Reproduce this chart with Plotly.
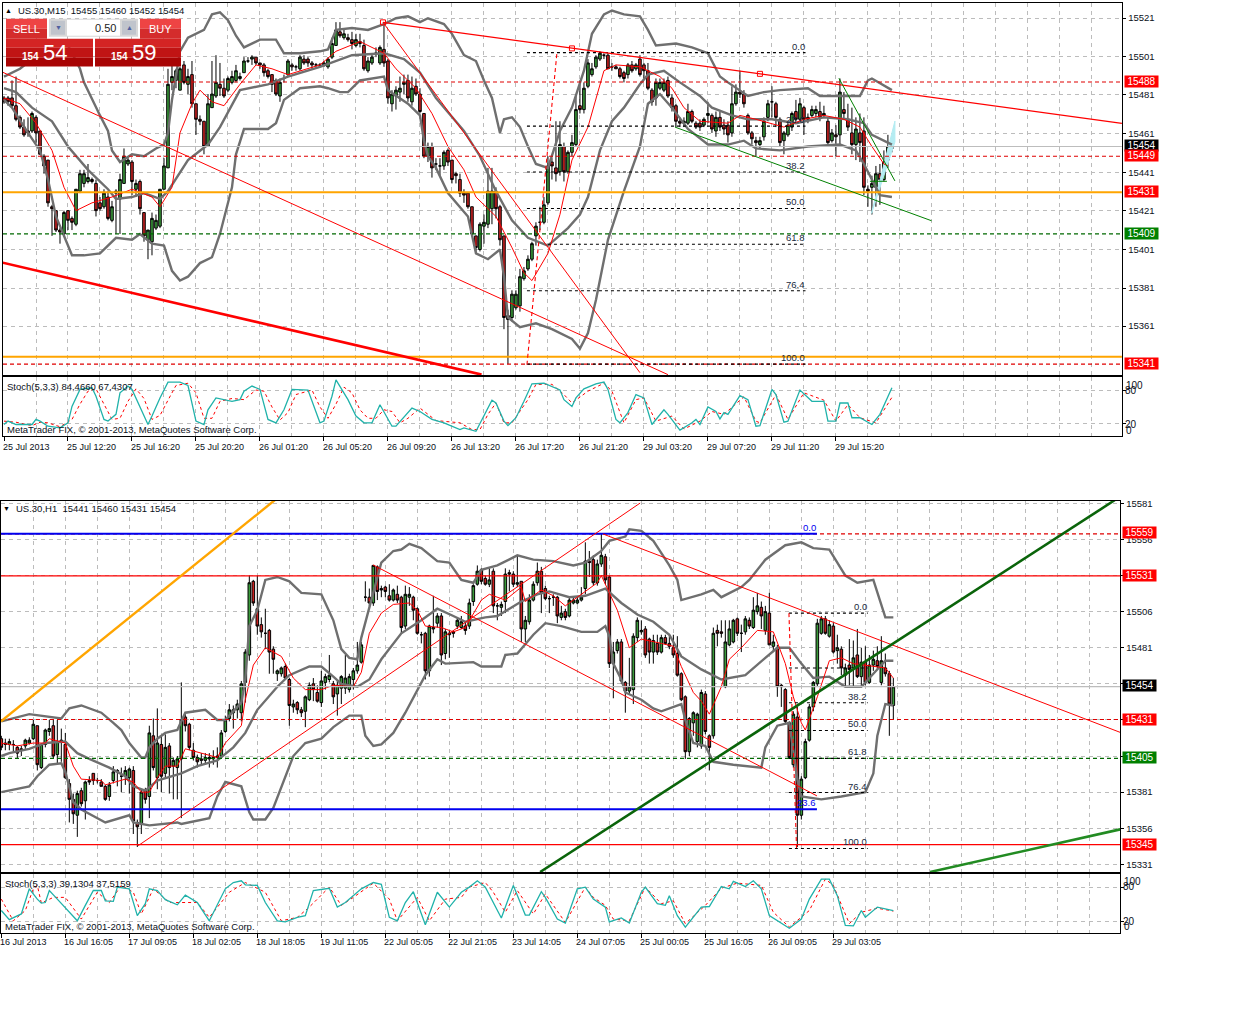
import plotly.graph_objects as go

# ---------- M15 candles (top chart) ----------
m15_open = [
    15480,15480,15480,15476,15470,15465,15463,15463,15470,15463,
    15450,15448,15424,15422,15412,15410,15422,15418,15415,15432,
    15436,15437,15438,15436,15426,15424,15429,15417,15431,15428,
    15436,15446,15447,15433,15437,15421,15407,15406,15413,15414,
    15433,15444,15488,15489,15484,15497,15487,15492,15477,15469,
    15468,15455,15475,15481,15487,15485,15484,15488,15489,15490,
    15493,15499,15500,15501,15498,15497,15494,15492,15489,15481,
    15490,15492,15497,15496,15495,15500,15500,15498,15497,15497,
    15497,15496,15501,15507,15514,15511,15511,15510,15507,15509,
    15507,15494,15498,15503,15498,15505,15499,15477,15481,15483,
    15487,15489,15478,15486,15482,15472,15450,15455,15446,15445,
    15445,15453,15448,15441,15438,15431,15431,15424,15409,15402,
    15414,15415,15423,15432,15424,15409,15368,15367,15372,15373,
    15387,15392,15397,15409,15416,15416,15426,15447,15444,15442,
    15455,15442,15452,15456,15476,15474,15486,15492,15496,15500,
    15502,15502,15496,15496,15495,15493,15492,15497,15495,15500,
    15497,15494,15484,15480,15485,15484,15489,15480,15476,15468,
    15467,15467,15473,15467,15467,15466,15471,15471,15463,15470,
    15466,15466,15462,15477,15483,15482,15471,15462,15458,15456,
    15460,15470,15478,15477,15469,15458,15461,15465,15473,15469,
    15475,15470,15471,15472,15473,15471,15468,15458,15461,15461,
    15474,15469,15462,15456,15462,15463,15433,15434,15434,15441,
    15438,15448,15455,
]
m15_close = [
    15478,15478,15476,15469,15465,15461,15462,15472,15462,15451,
    15445,15426,15423,15412,15411,15421,15417,15416,15433,15441,
    15441,15439,15437,15422,15423,15431,15418,15424,15432,15438,
    15450,15448,15437,15436,15423,15409,15412,15418,15417,15433,
    15445,15487,15491,15494,15495,15488,15491,15477,15469,15468,
    15455,15477,15482,15488,15485,15481,15490,15491,15494,15491,
    15499,15499,15501,15498,15497,15493,15491,15487,15482,15488,
    15490,15499,15496,15496,15501,15498,15498,15497,15497,15497,
    15498,15500,15508,15515,15512,15513,15510,15508,15510,15508,
    15495,15499,15501,15503,15506,15498,15480,15482,15484,15485,
    15488,15480,15485,15482,15473,15450,15455,15444,15446,15445,
    15452,15447,15438,15440,15431,15430,15424,15410,15403,15415,
    15416,15432,15432,15423,15407,15367,15366,15379,15379,15388,
    15391,15397,15405,15414,15416,15425,15445,15445,15441,15456,
    15442,15452,15457,15474,15474,15485,15498,15495,15501,15503,
    15502,15495,15496,15495,15491,15490,15497,15494,15497,15492,
    15494,15485,15478,15488,15488,15488,15481,15475,15468,15467,
    15468,15473,15468,15465,15465,15469,15472,15464,15470,15465,
    15464,15461,15477,15483,15482,15477,15462,15459,15457,15458,
    15468,15477,15478,15470,15457,15462,15466,15472,15469,15477,
    15469,15469,15474,15474,15470,15472,15457,15462,15460,15483,
    15472,15465,15456,15464,15457,15434,15432,15436,15441,15438,
    15447,15455,15454,
]
m15_high = [
    15481,15481,15489,15491,15471,15469,15470,15473,15471,15463,
    15451,15448,15425,15422,15413,15422,15422,15419,15433,15443,
    15443,15446,15439,15438,15429,15433,15432,15427,15433,15441,
    15454,15450,15448,15438,15438,15421,15412,15421,15420,15433,
    15449,15495,15497,15495,15496,15499,15495,15499,15477,15471,
    15468,15482,15499,15502,15498,15490,15491,15494,15497,15493,
    15501,15501,15502,15501,15498,15498,15495,15492,15490,15490,
    15492,15500,15498,15497,15502,15502,15501,15499,15498,15498,
    15499,15501,15511,15519,15519,15515,15513,15514,15513,15513,
    15510,15501,15503,15506,15507,15518,15500,15484,15486,15491,
    15492,15492,15491,15490,15485,15472,15457,15457,15449,15449,
    15453,15454,15448,15442,15441,15433,15431,15424,15409,15416,
    15420,15444,15444,15434,15425,15409,15371,15381,15381,15392,
    15393,15399,15406,15416,15424,15429,15450,15449,15468,15468,
    15457,15453,15461,15481,15489,15488,15500,15498,15502,15504,
    15503,15503,15498,15497,15496,15494,15498,15499,15498,15502,
    15498,15498,15485,15490,15490,15490,15491,15482,15477,15470,
    15470,15477,15474,15468,15469,15470,15478,15472,15473,15473,
    15469,15468,15486,15487,15494,15484,15472,15463,15460,15460,
    15470,15479,15486,15478,15470,15463,15468,15473,15479,15480,
    15476,15472,15476,15476,15478,15476,15470,15464,15466,15490,
    15483,15477,15475,15470,15472,15470,15435,15440,15445,15446,
    15453,15461,15460,
]
m15_low = [
    15477,15476,15475,15468,15464,15460,15460,15462,15457,15451,
    15441,15424,15409,15411,15405,15409,15412,15412,15414,15431,
    15434,15436,15436,15419,15422,15423,15417,15416,15410,15410,
    15436,15445,15430,15429,15420,15406,15397,15399,15412,15413,
    15433,15444,15484,15485,15484,15487,15482,15475,15461,15466,
    15451,15455,15475,15480,15481,15480,15483,15487,15488,15489,
    15493,15498,15497,15497,15495,15491,15490,15483,15481,15478,
    15488,15491,15494,15494,15494,15497,15496,15495,15496,15496,
    15496,15495,15500,15507,15511,15510,15509,15505,15506,15506,
    15494,15493,15497,15501,15497,15496,15477,15473,15474,15478,
    15482,15478,15476,15481,15472,15449,15447,15439,15443,15440,
    15443,15445,15436,15436,15429,15426,15423,15409,15400,15401,
    15405,15413,15415,15418,15404,15361,15343,15365,15371,15370,
    15386,15391,15396,15404,15412,15415,15425,15438,15437,15440,
    15437,15441,15450,15455,15472,15472,15485,15491,15495,15499,
    15500,15495,15494,15495,15490,15488,15490,15493,15494,15491,
    15490,15484,15476,15476,15484,15483,15480,15473,15465,15465,
    15465,15466,15467,15464,15463,15465,15467,15462,15460,15463,
    15461,15457,15460,15476,15480,15475,15461,15456,15450,15454,
    15458,15468,15470,15465,15455,15451,15460,15463,15468,15468,
    15461,15467,15470,15470,15468,15470,15456,15457,15450,15456,
    15469,15463,15451,15448,15447,15430,15424,15420,15424,15425,
    15437,15444,15452,
]

# M15 Bollinger bands and moving average, read at the turning points
m15_up_bars = [0,4,12,16,19,20,24,26,27,29,32,35,38,40,41,42,44,46,50,52,54,56,58,60,64,68,70,74,79,81,83,87,91,95,98,101,104,106,110,112,115,118,120,122,124,125,127,129,131,133,136,139,142,145,147,150,152,155,159,161,163,168,172,176,179,181,186,190,194,201,204,209,214,216,217,222]
m15_up_vals = [15491,15495,15508,15507,15495,15488,15471,15463,15453,15447,15451,15450,15454,15456,15462,15479,15504,15511,15515,15523,15524,15520,15512,15506,15510,15510,15503,15503,15504,15505,15515,15516,15515,15518,15521,15522,15519,15521,15518,15513,15502,15499,15489,15480,15462,15469,15470,15465,15455,15446,15444,15463,15475,15494,15513,15523,15525,15523,15522,15515,15507,15508,15506,15503,15491,15488,15481,15483,15484,15485,15481,15481,15481,15489,15490,15484]
m15_mid_bars = [0,3,7,12,16,21,26,28,32,35,39,41,46,51,54,59,66,71,79,83,87,95,100,104,108,115,119,123,127,131,136,141,144,146,149,152,155,159,161,165,169,174,177,182,186,192,198,205,211,215,217,222]
m15_mid_vals = [15485,15483,15475,15468,15455,15443,15433,15428,15429,15431,15428,15432,15448,15456,15465,15484,15487,15491,15496,15499,15502,15503,15500,15493,15480,15463,15450,15432,15417,15408,15404,15413,15420,15429,15453,15468,15475,15487,15492,15494,15488,15481,15475,15471,15469,15469,15467,15470,15469,15467,15461,15456]
m15_low_bars = [0,2,6,9,11,13,17,20,24,28,32,34,37,40,42,44,46,49,52,54,57,58,60,66,68,70,74,79,81,84,86,89,95,96,101,104,105,106,108,111,116,118,121,124,125,126,129,133,137,142,144,146,148,151,155,159,161,164,167,171,176,181,185,188,194,201,209,213,215,217,219,222]
m15_low_vals = [15479,15475,15462,15453,15438,15419,15399,15399,15400,15408,15407,15410,15405,15404,15391,15386,15388,15395,15398,15410,15434,15451,15464,15464,15467,15479,15485,15486,15485,15483,15483,15489,15491,15484,15477,15471,15458,15450,15444,15431,15419,15400,15397,15402,15388,15367,15362,15364,15361,15356,15351,15359,15376,15407,15432,15455,15477,15482,15475,15464,15456,15456,15458,15454,15453,15455,15456,15453,15446,15438,15430,15429]
m15_ma_bars = [0,4,8,12,15,18,22,27,32,37,39,42,44,47,49,52,55,59,63,67,71,74,79,83,89,95,98,103,107,111,115,118,123,127,130,132,136,139,142,146,150,153,159,164,167,170,174,181,184,188,195,200,205,210,214,217,220,221]
m15_ma_vals = [15480,15477,15467,15453,15434,15422,15426,15429,15433,15429,15424,15434,15462,15477,15484,15478,15476,15487,15497,15495,15492,15494,15497,15504,15509,15503,15495,15485,15472,15455,15443,15429,15419,15403,15390,15386,15400,15420,15448,15465,15494,15497,15496,15491,15485,15475,15468,15467,15471,15469,15465,15469,15471,15469,15465,15455,15446,15445]

# M15 stochastic
m15_k_bars = [0,1,3,7,8,9,11,14,16,17,19,22,23,25,26,28,29,31,32,34,36,37,39,41,44,46,48,50,51,53,57,59,60,62,64,66,68,70,72,76,79,80,82,83,86,88,90,92,94,97,98,102,104,107,110,114,115,118,120,122,123,125,126,128,130,132,135,139,140,142,143,145,148,150,151,153,154,156,158,160,162,165,166,169,172,173,174,176,178,179,180,181,184,186,188,189,192,193,195,196,199,202,205,206,208,209,211,212,214,217,219,222]
m15_k_vals = [19,25,19,19,28,25,16,13,22,51,81,84,69,28,25,37,75,87,81,51,19,34,66,94,94,88,25,19,45,66,60,63,78,87,81,28,22,45,81,80,22,25,69,98,63,34,22,22,54,16,16,48,42,28,22,10,13,7,34,62,57,25,17,31,60,91,92,80,63,51,66,82,91,94,81,28,22,40,72,66,19,45,37,9,22,28,19,50,42,29,40,37,70,63,16,17,81,72,23,25,80,60,60,25,25,57,57,31,31,19,37,84]
m15_d_bars = [0,3,7,9,11,14,17,19,21,23,25,27,29,31,33,35,37,39,41,43,46,48,50,52,54,57,60,63,65,67,69,71,73,77,79,81,83,85,87,89,91,93,95,97,99,101,104,108,114,117,119,121,123,125,127,131,133,137,140,142,146,150,152,155,158,160,163,167,170,174,177,180,185,188,189,193,196,200,205,208,211,214,218,222]
m15_d_vals = [25,23,17,23,22,15,28,55,78,82,55,28,30,60,82,65,28,35,62,88,92,75,30,30,60,65,63,80,78,50,27,40,72,80,50,30,55,85,75,45,30,30,45,42,22,30,48,26,22,10,10,37,57,22,22,63,90,90,72,57,78,92,78,22,63,66,25,34,11,25,42,37,68,25,22,72,28,75,62,25,54,31,22,67]

# ---------- H1 candles (bottom chart) ----------
h1_open = [
    15418,15415,15414,15414,15412,15411,15413,15415,15418,15427,
    15398,15414,15423,15427,15407,15417,15414,15387,15376,15365,
    15382,15375,15389,15394,15389,15388,15385,15378,15389,15395,
    15392,15392,15391,15396,15360,15359,15382,15378,15420,15391,
    15414,15394,15413,15399,15398,15404,15433,15428,15410,15405,
    15404,15403,15404,15404,15405,15406,15423,15432,15436,15438,
    15436,15457,15476,15527,15508,15497,15491,15493,15480,15463,
    15463,15468,15459,15440,15443,15438,15437,15445,15456,15450,
    15443,15457,15459,15456,15449,15453,15453,15452,15459,15465,
    15471,15516,15516,15512,15537,15522,15523,15517,15514,15518,
    15516,15496,15516,15516,15508,15490,15491,15465,15494,15498,
    15503,15477,15490,15492,15496,15495,15496,15496,15513,15525,
    15535,15529,15525,15534,15510,15509,15513,15533,15532,15525,
    15527,15494,15499,15514,15526,15534,15522,15515,15516,15516,
    15502,15506,15503,15512,15512,15514,15522,15541,15542,15526,
    15539,15544,15530,15470,15479,15485,15457,15451,15452,15488,
    15492,15494,15487,15478,15484,15478,15488,15484,15481,15477,
    15463,15447,15409,15429,15416,15413,15449,15420,15420,15493,
    15492,15454,15483,15485,15501,15491,15492,15500,15495,15506,
    15509,15493,15505,15482,15481,15455,15452,15429,15400,15433,
    15365,15391,15417,15440,15456,15491,15501,15489,15496,15479,
    15480,15462,15469,15467,15476,15461,15471,15457,15469,15472,
    15457,15467,15463,15441,
]
h1_close = [
    15412,15414,15416,15414,15408,15410,15417,15417,15428,15400,
    15414,15424,15425,15406,15416,15416,15391,15376,15366,15380,
    15373,15388,15388,15389,15389,15385,15376,15386,15395,15396,
    15392,15396,15397,15361,15357,15381,15376,15422,15398,15415,
    15392,15412,15398,15403,15404,15431,15427,15412,15405,15402,
    15403,15405,15405,15405,15406,15422,15431,15438,15438,15442,
    15456,15478,15526,15512,15496,15492,15491,15478,15473,15465,
    15467,15460,15441,15442,15438,15436,15447,15455,15452,15444,
    15458,15461,15462,15447,15455,15461,15460,15461,15465,15469,
    15483,15516,15512,15538,15520,15521,15520,15514,15521,15514,
    15495,15518,15518,15507,15491,15490,15465,15496,15495,15503,
    15476,15492,15491,15491,15500,15499,15493,15512,15524,15534,
    15527,15525,15528,15510,15510,15511,15532,15532,15525,15526,
    15494,15500,15514,15525,15534,15519,15515,15515,15516,15503,
    15505,15502,15514,15514,15514,15516,15541,15540,15526,15539,
    15545,15528,15470,15478,15485,15458,15451,15454,15489,15500,
    15493,15476,15478,15486,15478,15488,15484,15482,15476,15462,
    15445,15409,15432,15436,15435,15450,15423,15412,15491,15491,
    15491,15485,15494,15500,15491,15491,15501,15496,15507,15510,
    15503,15506,15483,15485,15454,15454,15430,15405,15435,15365,
    15390,15416,15440,15457,15498,15501,15491,15497,15478,15481,
    15467,15467,15466,15474,15461,15471,15457,15469,15473,15468,
    15472,15463,15442,15454,
]
h1_high = [
    15420,15418,15418,15417,15413,15413,15418,15419,15431,15427,
    15415,15425,15431,15431,15431,15425,15422,15390,15380,15382,
    15384,15389,15392,15394,15391,15390,15386,15388,15399,15397,
    15398,15399,15398,15399,15362,15383,15384,15427,15432,15439,
    15420,15421,15415,15405,15406,15457,15435,15429,15415,15407,
    15408,15408,15408,15410,15412,15424,15434,15442,15441,15445,
    15458,15480,15531,15528,15531,15502,15508,15494,15482,15466,
    15468,15470,15460,15445,15444,15440,15448,15457,15460,15455,
    15465,15463,15476,15458,15458,15462,15476,15463,15467,15485,
    15485,15527,15522,15538,15538,15524,15524,15525,15522,15524,
    15517,15524,15523,15517,15509,15492,15492,15497,15517,15505,
    15505,15494,15493,15493,15502,15503,15499,15515,15525,15538,
    15536,15531,15536,15536,15512,15513,15536,15535,15534,15545,
    15527,15503,15518,15527,15540,15537,15524,15517,15518,15517,
    15510,15508,15516,15516,15516,15523,15554,15548,15545,15542,
    15560,15546,15531,15485,15487,15487,15458,15474,15491,15502,
    15500,15496,15488,15490,15490,15490,15490,15490,15490,15489,
    15464,15448,15433,15437,15436,15452,15451,15421,15495,15497,
    15500,15500,15500,15501,15502,15497,15503,15502,15516,15519,
    15513,15510,15519,15490,15483,15456,15453,15430,15437,15440,
    15392,15418,15442,15458,15501,15503,15503,15500,15498,15490,
    15482,15470,15487,15486,15494,15481,15482,15476,15479,15482,
    15489,15477,15465,15460,
]
h1_low = [
    15410,15410,15410,15409,15404,15406,15411,15414,15417,15396,
    15397,15412,15420,15404,15401,15402,15390,15360,15359,15350,
    15371,15362,15386,15386,15387,15385,15375,15375,15387,15385,
    15381,15386,15380,15352,15343,15352,15373,15363,15396,15383,
    15381,15391,15380,15376,15376,15363,15423,15410,15403,15398,
    15400,15400,15398,15400,15398,15404,15422,15430,15425,15432,
    15430,15443,15472,15510,15490,15488,15480,15463,15463,15458,
    15461,15459,15427,15436,15435,15433,15426,15444,15444,15443,
    15440,15452,15457,15442,15434,15442,15449,15450,15452,15463,
    15470,15513,15510,15510,15514,15516,15516,15513,15513,15512,
    15491,15494,15510,15500,15490,15484,15459,15461,15491,15495,
    15469,15473,15474,15488,15494,15494,15490,15494,15510,15524,
    15525,15524,15523,15505,15500,15503,15505,15520,15523,15523,
    15485,15485,15497,15513,15524,15505,15514,15505,15510,15498,
    15500,15500,15502,15511,15511,15513,15518,15530,15524,15524,
    15537,15525,15467,15446,15477,15456,15436,15449,15442,15485,
    15490,15474,15470,15470,15476,15477,15483,15480,15474,15461,
    15444,15404,15406,15420,15412,15411,15421,15396,15418,15482,
    15488,15453,15482,15484,15489,15478,15490,15494,15494,15504,
    15494,15490,15483,15478,15447,15440,15428,15404,15398,15343,
    15362,15390,15416,15437,15454,15490,15490,15488,15477,15470,
    15462,15454,15455,15454,15460,15454,15455,15456,15465,15466,
    15455,15461,15420,15431,
]

# H1 Bollinger bands and moving average
h1_up_bars = [0,7,15,17,20,25,28,30,32,35,36,37,39,41,44,46,51,54,56,60,61,62,64,66,69,72,75,80,83,85,87,89,90,93,95,98,100,102,105,109,112,115,118,120,124,129,133,138,143,146,150,152,156,157,160,163,167,169,170,175,178,180,185,187,191,196,200,203,207,211,214,218,221,223]
h1_up_vals = [15430,15435,15432,15439,15441,15436,15429,15424,15415,15405,15405,15412,15418,15422,15424,15436,15438,15431,15431,15443,15459,15496,15507,15528,15530,15527,15519,15518,15500,15480,15474,15473,15488,15519,15540,15548,15549,15553,15550,15541,15540,15528,15526,15535,15538,15545,15542,15541,15538,15540,15548,15555,15558,15563,15562,15555,15538,15528,15514,15518,15521,15516,15523,15528,15542,15552,15554,15550,15549,15531,15526,15528,15502,15502]
h1_mid_bars = [0,2,7,11,16,19,22,27,31,33,36,39,45,49,54,58,61,64,69,72,77,80,83,85,89,92,95,100,105,109,113,116,121,124,130,134,137,142,146,151,155,159,163,167,170,175,180,186,191,194,197,200,203,207,211,215,218,221,223]
h1_mid_vals = [15406,15408,15411,15415,15416,15408,15404,15398,15392,15385,15382,15389,15394,15399,15403,15412,15422,15438,15454,15462,15468,15468,15461,15456,15454,15459,15473,15491,15500,15508,15503,15499,15502,15503,15513,15518,15520,15516,15517,15522,15512,15504,15499,15490,15475,15466,15459,15462,15474,15481,15481,15470,15460,15461,15454,15454,15463,15472,15472]
h1_low_bars = [0,7,9,12,15,16,18,20,26,32,33,37,44,45,52,54,56,60,62,63,66,68,73,76,80,83,87,90,91,93,95,98,101,104,106,109,111,118,120,125,126,129,133,136,140,145,149,151,152,153,155,156,160,163,165,170,171,173,176,178,183,190,191,194,197,199,200,205,210,216,218,219,221,223]
h1_low_vals = [15381,15385,15392,15400,15401,15395,15374,15369,15360,15365,15360,15358,15360,15359,15363,15378,15388,15385,15367,15362,15362,15370,15406,15415,15418,15426,15434,15434,15420,15413,15414,15422,15436,15452,15462,15473,15470,15471,15468,15468,15476,15477,15490,15498,15496,15492,15492,15496,15489,15470,15459,15450,15445,15439,15437,15442,15431,15415,15413,15402,15400,15398,15412,15427,15429,15390,15378,15376,15378,15381,15394,15420,15442,15441]
h1_ma_bars = [0,4,8,11,12,16,18,20,25,26,31,33,35,37,39,41,44,46,50,54,56,60,61,63,66,70,73,76,80,83,88,90,92,95,98,102,104,106,110,113,116,120,122,126,130,131,135,138,141,145,149,150,152,154,157,160,165,168,170,173,175,177,180,182,185,189,193,196,198,200,201,204,207,210,213,218,221,223]
h1_ma_vals = [15415,15413,15415,15415,15418,15415,15399,15390,15389,15386,15390,15388,15381,15381,15391,15399,15399,15411,15408,15405,15415,15427,15445,15469,15481,15475,15460,15452,15452,15455,15454,15464,15491,15505,15511,15512,15507,15496,15495,15492,15495,15514,15518,15514,15523,15513,15521,15517,15510,15518,15526,15531,15519,15507,15481,15487,15484,15482,15468,15450,15444,15435,15454,15473,15481,15493,15492,15470,15447,15429,15424,15447,15472,15474,15470,15468,15467,15460]

# H1 stochastic
h1_k_bars = [0,2,5,7,9,10,11,12,14,19,21,23,25,26,28,29,32,34,36,37,39,41,44,46,49,52,56,58,60,61,64,66,69,71,74,76,78,82,84,86,90,93,95,97,99,101,103,106,109,112,115,117,119,121,125,128,131,132,135,136,139,141,144,146,148,151,152,155,157,160,161,164,166,167,169,171,175,177,180,182,183,186,188,190,192,197,200,202,205,207,209,211,213,215,216,219,223]
h1_k_vals = [39,23,33,77,59,52,53,74,59,21,48,74,74,56,55,80,77,30,51,77,74,58,49,66,53,21,77,88,91,84,83,53,21,19,27,30,74,78,45,53,77,88,85,27,21,53,72,14,71,45,71,80,91,80,26,83,31,31,72,62,24,17,77,80,59,45,19,26,17,71,80,51,48,65,30,10,45,46,81,77,90,81,91,77,30,8,24,59,94,94,65,13,12,39,27,45,39]
h1_d_bars = [0,3,6,8,9,10,13,16,20,24,27,30,33,35,38,42,45,49,52,57,61,66,70,74,77,82,85,88,93,97,99,104,107,111,115,117,121,123,126,129,133,136,141,146,148,151,153,157,161,165,168,171,176,180,184,190,193,197,202,206,208,212,215,219,223]
h1_d_vals = [59,21,39,77,83,52,62,62,24,71,53,83,71,33,77,53,53,53,27,71,88,71,21,27,45,80,48,62,87,59,21,62,21,59,62,80,88,71,36,74,33,68,18,80,62,48,24,21,80,51,56,16,48,78,87,83,36,10,39,94,83,16,36,43,38]

# drawn objects
m15_red_top_bars = [94.75, 279.5]
m15_red_top_vals = [15518.9, 15466.9]
m15_red_b_bars = [94.75, 159]
m15_red_b_vals = [15518.9, 15338.6]
m15_red_c_bars = [-0.3, 166]
m15_red_c_vals = [15493.2, 15337.6]
m15_red_thick_bars = [-0.3, 119.4]
m15_red_thick_vals = [15395.2, 15337.6]
m15_anchor_bars = [94.75, 142, 189]
m15_anchor_vals = [15518.9, 15505.5, 15492.4]
m15_fib_vert_bars = [130.75, 138.25]
m15_fib_vert_vals = [15342.7, 15503.3]
m15_fib_names = ["0.0", "23.6", "38.2", "50.0", "61.8", "76.4", "100.0"]
m15_fib_vals = [15503.3, 15465.5, 15441.9, 15423.1, 15404.7, 15380.8, 15343]
m15_fib_start = [130.75, 130.75, 130.75, 130.75, 136, 130.75, 130.75]
m15_fib_end = 200.4
m15_green_a_bars = [167.75, 231.9]
m15_green_a_vals = [15465, 15416.8]
m15_green_b_bars = [208.75, 222.75]
m15_green_b_vals = [15490.1, 15437.3]
m15_green_c_bars = [216.5, 220.75]
m15_green_c_vals = [15437.1, 15437.1]
m15_tri_bars = [216.9, 222.75, 222.75, 216.9]
m15_tri_vals = [15420.6, 15468.1, 15457.3, 15420.6]

h1_orange_bars = [-0.08, 68.4]
h1_orange_vals = [15430, 15583.3]
h1_dkgreen_bars = [134.7, 278.4]
h1_dkgreen_vals = [15325.7, 15583.3]
h1_green_bars = [232.2, 279.7]
h1_green_vals = [15325.7, 15355.2]
h1_red_a_bars = [34.2, 159.7]
h1_red_a_vals = [15343.9, 15581.2]
h1_red_b_bars = [92.9, 203.9]
h1_red_b_vals = [15538.4, 15378.4]
h1_red_c_bars = [150.4, 279.7]
h1_red_c_vals = [15559.8, 15422.4]
h1_blue_end = 203.9
h1_blue_vals = [15560, 15369.2]
h1_fib_vert_bars = [198.8, 196.9]
h1_fib_vert_vals = [15342.3, 15505.2]
h1_fib_names = ["0.0", "38.2", "50.0", "61.8", "76.4", "100.0"]
h1_fib_vals = [15505, 15442.9, 15423.7, 15404.4, 15380.7, 15342]
h1_fib_extra = 15467
h1_fib_start = 196.9
h1_fib_end = 216.6

# axes text
m15_tick_labels = ["15521", "15501", "15481", "15461", "15441", "15421", "15401", "15381", "15361"]
m15_tick_pos = [15521.1, 15501.1, 15481.6, 15461.6, 15441.6, 15422.1, 15402.1, 15382.1, 15362.6]
h1_ticks = [15581, 15556, 15531, 15506, 15481, 15456, 15431, 15406, 15381, 15356, 15331]
m15_dates = ["25 Jul 2013", "25 Jul 12:20", "25 Jul 16:20", "25 Jul 20:20", "26 Jul 01:20", "26 Jul 05:20", "26 Jul 09:20",
             "26 Jul 13:20", "26 Jul 17:20", "26 Jul 21:20", "29 Jul 03:20", "29 Jul 07:20", "29 Jul 11:20", "29 Jul 15:20"]
h1_dates = ["16 Jul 2013", "16 Jul 16:05", "17 Jul 09:05", "18 Jul 02:05", "18 Jul 18:05", "19 Jul 11:05", "22 Jul 05:05",
            "22 Jul 21:05", "23 Jul 14:05", "24 Jul 07:05", "25 Jul 00:05", "25 Jul 16:05", "26 Jul 09:05", "29 Jul 03:05"]
m15_tags = [("15488", 15488.7, "#ff0000"), ("15454", 15455.6, "#000000"), ("15449", 15450.2, "#ff0000"),
            ("15431", 15431.7, "#ff0000"), ("15409", 15410.2, "#008000"), ("15341", 15343.5, "#ff0000")]
h1_tags = [("15559", 15560.5, "#ff0000"), ("15531", 15531, "#ff0000"), ("15454", 15454.5, "#000000"),
           ("15431", 15431.6, "#ff0000"), ("15405", 15404.8, "#008000"), ("15345", 15344.8, "#ff0000")]

W = 1254
H = 1030
FONT = "Liberation Sans"
GRID = "#bcbcbc"
BAND = "#6f6f6f"
TEXT = "#0a1020"


def px_x(x):
    return x / W


def px_y(y):
    # the page sits a touch lower than asked for, so pull everything back up
    off = 2.2 if y < 480 else 1.5
    return 1 - (y - off) / H


def line(fig, xs, ys, axes, color, width=1, dash="solid"):
    fig.add_trace(go.Scatter(x=xs, y=ys, xaxis=axes[0], yaxis=axes[1], mode="lines",
                             line=dict(color=color, width=width, dash=dash),
                             hoverinfo="skip", showlegend=False))


def candles(fig, o, h, l, c, axes):
    fig.add_trace(go.Candlestick(
        x=list(range(len(o))), open=o, high=h, low=l, close=c,
        xaxis=axes[0], yaxis=axes[1], whiskerwidth=0,
        increasing=dict(fillcolor="#3a9a3a", line=dict(color="#000000", width=1)),
        decreasing=dict(fillcolor="#c82020", line=dict(color="#000000", width=1)),
        hoverinfo="skip", showlegend=False))


def label(x, y, text, size=9.5, color=TEXT, anchor="left", bold=False):
    if bold:
        text = "<b>" + text + "</b>"
    return dict(x=px_x(x), y=px_y(y), xref="paper", yref="paper", text=text, showarrow=False,
                xanchor=anchor, yanchor="middle", font=dict(family=FONT, size=size, color=color),
                borderpad=0, borderwidth=0)


def tag(text, price, color, yref, left):
    return dict(x=px_x(left), y=price, xref="paper", yref=yref, text=text, showarrow=False,
                xanchor="left", yanchor="middle", width=33, height=11, align="center", bgcolor=color,
                font=dict(family=FONT, size=10, color="#ffffff"), borderpad=0)


def box(x0, y0, x1, y1, color):
    return dict(type="rect", xref="paper", yref="paper", layer="above",
                x0=px_x(x0), x1=px_x(x1), y0=px_y(y0), y1=px_y(y1),
                fillcolor=color, line=dict(width=0))


fig = go.Figure()
TOP = ("x", "y")
TOP_ST = ("x2", "y2")
BOT = ("x3", "y3")
BOT_ST = ("x4", "y4")

# top chart
fig.add_trace(go.Scatter(x=m15_tri_bars, y=m15_tri_vals, xaxis="x", yaxis="y", mode="lines", fill="toself",
                         fillcolor="#b4ecf2", line=dict(color="#b4ecf2", width=1),
                         hoverinfo="skip", showlegend=False))
candles(fig, m15_open, m15_high, m15_low, m15_close, TOP)
line(fig, m15_up_bars, m15_up_vals, TOP, BAND, 2.4)
line(fig, m15_mid_bars, m15_mid_vals, TOP, BAND, 2.4)
line(fig, m15_low_bars, m15_low_vals, TOP, BAND, 2.4)
line(fig, m15_ma_bars, m15_ma_vals, TOP, "#ff0000", 1)
for price, color, width, dash in [(15455, "#bdbdbd", 1.2, "solid"), (15488.2, "#e00000", 1.2, "4px,3px"),
                                  (15450, "#e00000", 1.2, "4px,3px"), (15343, "#e00000", 1.2, "4px,3px"),
                                  (15410, "#006800", 1.2, "4px,3px"), (15431.5, "#ffa500", 2, "solid"),
                                  (15346.8, "#ffa500", 2, "solid")]:
    line(fig, [-0.25, 279.5], [price, price], TOP, color, width, dash)
for name, price, start in zip(m15_fib_names, m15_fib_vals, m15_fib_start):
    line(fig, [start, m15_fib_end], [price, price], TOP, "#000000", 1.1, "3px,3px")
line(fig, m15_fib_vert_bars, m15_fib_vert_vals, TOP, "#ff0000", 1.1, "4px,3px")
line(fig, m15_red_top_bars, m15_red_top_vals, TOP, "#ff0000", 1.2)
line(fig, m15_red_b_bars, m15_red_b_vals, TOP, "#ff0000", 1)
line(fig, m15_red_c_bars, m15_red_c_vals, TOP, "#ff0000", 1)
line(fig, m15_red_thick_bars, m15_red_thick_vals, TOP, "#ff0000", 2.6)
line(fig, m15_green_a_bars, m15_green_a_vals, TOP, "#008000", 1)
line(fig, m15_green_b_bars, m15_green_b_vals, TOP, "#008000", 1)
line(fig, m15_green_c_bars, m15_green_c_vals, TOP, "#008000", 1)
fig.add_trace(go.Scatter(x=m15_anchor_bars, y=m15_anchor_vals, xaxis="x", yaxis="y", mode="markers",
                         marker=dict(symbol="square-open", size=5, color="#ff0000", line=dict(width=1, color="#ff0000")),
                         hoverinfo="skip", showlegend=False))

# top stochastic
line(fig, m15_d_bars, m15_d_vals, TOP_ST, "#ff0000", 1, "3px,3px")
line(fig, m15_k_bars, m15_k_vals, TOP_ST, "#20b2aa", 1.3)

# bottom chart
candles(fig, h1_open, h1_high, h1_low, h1_close, BOT)
line(fig, h1_up_bars, h1_up_vals, BOT, BAND, 2.4)
line(fig, h1_mid_bars, h1_mid_vals, BOT, BAND, 2.4)
line(fig, h1_low_bars, h1_low_vals, BOT, BAND, 2.4)
line(fig, h1_ma_bars, h1_ma_vals, BOT, "#ff0000", 1)
for price, color, width, dash in [(15454.1, "#bdbdbd", 1.2, "solid"), (15530.8, "#ff0000", 1.2, "solid"),
                                  (15344.6, "#ff0000", 1.2, "solid"), (15431.3, "#e00000", 1.2, "4px,3px"),
                                  (15559.8, "#e00000", 1.2, "4px,3px"), (15404.4, "#006800", 1.2, "4px,3px")]:
    line(fig, [-0.08, 279.7], [price, price], BOT, color, width, dash)
for price in h1_fib_vals + [h1_fib_extra]:
    line(fig, [h1_fib_start, h1_fib_end], [price, price], BOT, "#000000", 1.1, "3px,3px")
line(fig, h1_fib_vert_bars, h1_fib_vert_vals, BOT, "#ff0000", 1.1, "4px,3px")
for price in h1_blue_vals:
    line(fig, [-0.08, h1_blue_end], [price, price], BOT, "#0000f0", 2)
line(fig, h1_orange_bars, h1_orange_vals, BOT, "#ffa500", 2.4)
line(fig, h1_red_a_bars, h1_red_a_vals, BOT, "#ff0000", 1)
line(fig, h1_red_b_bars, h1_red_b_vals, BOT, "#ff0000", 1)
line(fig, h1_red_c_bars, h1_red_c_vals, BOT, "#ff0000", 1)
line(fig, h1_dkgreen_bars, h1_dkgreen_vals, BOT, "#0a640a", 2.6)
line(fig, h1_green_bars, h1_green_vals, BOT, "#228b22", 2.6)

# bottom stochastic
line(fig, h1_d_bars, h1_d_vals, BOT_ST, "#ff0000", 1, "3px,3px")
line(fig, h1_k_bars, h1_k_vals, BOT_ST, "#20b2aa", 1.3)

grid_bars = list(range(0, 288, 8))
label_bars = list(range(0, 224, 16))
annotations = []
for bar, text in zip(label_bars, m15_dates):
    annotations.append(dict(x=bar, y=px_y(447), xref="x", yref="paper", text=text, showarrow=False, xanchor="left",
                            xshift=-2, yanchor="middle", font=dict(family=FONT, size=9, color=TEXT), borderpad=0))
for bar, text in zip(label_bars, h1_dates):
    annotations.append(dict(x=bar, y=px_y(943.5), xref="x3", yref="paper", text=text, showarrow=False, xanchor="left",
                            xshift=-2, yanchor="middle", font=dict(family=FONT, size=9, color=TEXT), borderpad=0))
for name, price in zip(m15_fib_names, m15_fib_vals):
    annotations.append(dict(x=m15_fib_end, y=price, xref="x", yref="y", text=name, showarrow=False, xanchor="right",
                            yanchor="bottom", font=dict(family=FONT, size=9.5, color="#1a2a40"), borderpad=0))
for name, price in zip(h1_fib_names, h1_fib_vals):
    annotations.append(dict(x=h1_fib_end, y=price, xref="x3", yref="y3", text=name, showarrow=False, xanchor="right",
                            yanchor="bottom", font=dict(family=FONT, size=9.5, color="#1a2a40"), borderpad=0))
for price, name in zip(h1_blue_vals, ["0.0", "23.6"]):
    annotations.append(dict(x=h1_blue_end, y=price, xref="x3", yref="y3", text=name, showarrow=False, xanchor="right",
                            yanchor="bottom", font=dict(family=FONT, size=9.5, color="#0000f0"), borderpad=0))
for text, price, color in m15_tags:
    annotations.append(tag(text, price, color, "y", 1124))
for text, price, color in h1_tags:
    annotations.append(tag(text, price, color, "y3", 1122))

annotations += [
    label(18, 10, "US.30,M15&nbsp;&nbsp;15455 15460 15452 15454"),
    label(5, 10, "▲", 7, "#000000"),
    label(16, 508, "US.30,H1&nbsp;&nbsp;15441 15460 15431 15454"),
    label(3, 508, "▼", 7, "#000000"),
    label(7, 387.2, "Stoch(5,3,3) 84,4660 67,4307"),
    label(7, 430.2, "MetaTrader FIX, © 2001-2013, MetaQuotes Software Corp."),
    label(5, 884.5, "Stoch(5,3,3) 39,1304 37,5159"),
    label(5, 927.5, "MetaTrader FIX, © 2001-2013, MetaQuotes Software Corp."),
    label(1126, 386.2, "100", 10), label(1125, 391.2, "80", 10), label(1125, 425.2, "20", 10), label(1126, 431.2, "0", 10),
    label(1124, 882.5, "100", 10), label(1123, 887.5, "80", 10), label(1123, 922.5, "20", 10), label(1124, 927.5, "0", 10),
    label(26, 28, "SELL", 11, "#ffffff", "center"),
    label(160, 28, "BUY", 11, "#ffffff", "center"),
    label(116, 27, "0.50", 11, "#222222", "right"),
    label(58, 27, "▼", 7, "#5060a0", "center"),
    label(129, 27, "▲", 7, "#5060a0", "center"),
    label(31, 56, "154", 10, "#ffffff", "center", True),
    label(55, 52, "54", 22, "#ffffff", "center"),
    label(119, 56, "154", 10, "#ffffff", "center", True),
    label(144, 52, "59", 22, "#ffffff", "center"),
]

# order panel in the corner of the top chart
shapes = [
    box(6, 18, 47, 28, "#ee4444"), box(6, 28, 47, 38, "#d42c2c"),
    box(140, 18, 181, 28, "#ee4444"), box(140, 28, 181, 38, "#d42c2c"),
    box(49, 18, 138, 36, "#d8d8d8"), box(67, 19, 120, 35, "#ffffff"),
    box(51, 20, 65, 34, "#c0c4cc"), box(122, 20, 136, 34, "#c0c4cc"),
    box(6, 38, 93, 47, "#d42424"), box(6, 47, 93, 57, "#c01414"), box(6, 57, 93, 66, "#a80404"),
    box(95, 38, 181, 47, "#d42424"), box(95, 47, 181, 57, "#c01414"), box(95, 57, 181, 66, "#a80404"),
]

frame = dict(showline=True, linecolor="#000000", linewidth=1, mirror=True, zeroline=False, showgrid=True,
             gridcolor=GRID, griddash="4px,4px", gridwidth=1)
x_base = dict(frame, tickmode="array", tickvals=grid_bars, ticktext=[""] * len(grid_bars), ticks="", rangeslider=dict(visible=False))
x_time = dict(frame, tickmode="array", tickvals=label_bars, ticktext=[""] * len(label_bars), ticks="outside", ticklen=4,
              tickcolor="#000000", minor=dict(tickmode="array", tickvals=grid_bars, showgrid=True, gridcolor=GRID,
                                              griddash="4px,4px", ticks=""))
tick_font = dict(family=FONT, size=9.5, color=TEXT)

fig.update_layout(
    width=W, height=H, autosize=False, margin=dict(l=0, r=0, t=0, b=0),
    paper_bgcolor="#ffffff", plot_bgcolor="#ffffff", showlegend=False, hovermode=False,
    boxgap=0.2, boxgroupgap=0.19,
    xaxis=dict(x_base, domain=[px_x(3), px_x(1122.3)], range=[-0.25, 279.6], anchor="y"),
    yaxis=dict(frame, domain=[px_y(375.3), px_y(2.7)], range=[15337.4, 15528.6], side="right", anchor="x",
               tickmode="array", tickvals=m15_tick_pos, ticktext=m15_tick_labels, ticks="outside", ticklen=3,
               tickcolor="#000000", tickfont=tick_font),
    xaxis2=dict(x_time, domain=[px_x(3), px_x(1122.3)], range=[-0.25, 279.6], anchor="y2"),
    yaxis2=dict(frame, domain=[px_y(436), px_y(377.3)], range=[-0.5, 103], side="right", anchor="x2",
                tickmode="array", tickvals=[20, 80], ticktext=["", ""], ticks="outside", ticklen=3, tickcolor="#000000"),
    xaxis3=dict(x_base, domain=[px_x(1), px_x(1120.3)], range=[-0.08, 279.74], anchor="y3"),
    yaxis3=dict(frame, domain=[px_y(873.3), px_y(500.7)], range=[15325.5, 15582.8], side="right", anchor="x3",
                tickmode="array", tickvals=h1_ticks, ticktext=[str(t) for t in h1_ticks], ticks="outside", ticklen=3,
                tickcolor="#000000", tickfont=tick_font),
    xaxis4=dict(x_time, domain=[px_x(1), px_x(1120.3)], range=[-0.08, 279.74], anchor="y4"),
    yaxis4=dict(frame, domain=[px_y(934), px_y(875.3)], range=[0, 102.5], side="right", anchor="x4",
                tickmode="array", tickvals=[20, 80], ticktext=["", ""], ticks="outside", ticklen=3, tickcolor="#000000"),
    annotations=annotations,
    shapes=shapes,
)

fig.write_html("out.html", config=dict(displayModeBar=False),
               post_script="document.body.style.margin='0';document.body.style.overflow='hidden';")
